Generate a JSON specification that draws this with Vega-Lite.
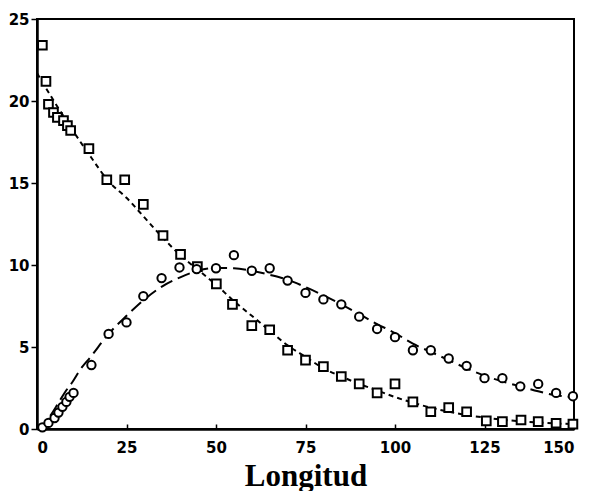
{
  "$schema": "https://vega.github.io/schema/vega-lite/v6.json",
  "autosize": {"type": "none"},
  "width": 537,
  "height": 410,
  "padding": {"left": 37, "top": 19, "right": 16, "bottom": 62},
  "background": "white",
  "config": {
    "view": {"stroke": "black", "strokeWidth": 2},
    "axis": {"grid": false, "domainColor": "black", "domainWidth": 2.5, "tickColor": "black", "tickWidth": 1.5,
      "labelFont": "DejaVu Sans", "labelFontWeight": "bold", "labelFontSize": 15, "labelColor": "black"}
  },
  "datasets": {
    "pts": [
      {"x": 1.5, "y": 23.4, "s": "sq"}, {"x": 2.5, "y": 21.2, "s": "sq"}, {"x": 3.2, "y": 19.8, "s": "sq"},
      {"x": 4.6, "y": 19.3, "s": "sq"}, {"x": 5.7, "y": 19.0, "s": "sq"}, {"x": 7.4, "y": 18.8, "s": "sq"},
      {"x": 8.5, "y": 18.5, "s": "sq"}, {"x": 9.4, "y": 18.2, "s": "sq"}, {"x": 14.5, "y": 17.1, "s": "sq"},
      {"x": 19.5, "y": 15.2, "s": "sq"}, {"x": 24.5, "y": 15.2, "s": "sq"}, {"x": 29.7, "y": 13.7, "s": "sq"},
      {"x": 35.2, "y": 11.8, "s": "sq"}, {"x": 40.1, "y": 10.65, "s": "sq"}, {"x": 44.8, "y": 9.9, "s": "sq"},
      {"x": 50.1, "y": 8.85, "s": "sq"}, {"x": 54.6, "y": 7.6, "s": "sq"}, {"x": 60, "y": 6.3, "s": "sq"},
      {"x": 65, "y": 6.05, "s": "sq"}, {"x": 70, "y": 4.8, "s": "sq"}, {"x": 75, "y": 4.2, "s": "sq"},
      {"x": 80, "y": 3.8, "s": "sq"}, {"x": 85, "y": 3.2, "s": "sq"}, {"x": 90, "y": 2.75, "s": "sq"},
      {"x": 95, "y": 2.2, "s": "sq"}, {"x": 100, "y": 2.75, "s": "sq"}, {"x": 105, "y": 1.65, "s": "sq"},
      {"x": 110, "y": 1.05, "s": "sq"}, {"x": 115, "y": 1.3, "s": "sq"}, {"x": 120, "y": 1.05, "s": "sq"},
      {"x": 125.5, "y": 0.5, "s": "sq"}, {"x": 130, "y": 0.45, "s": "sq"}, {"x": 135.2, "y": 0.55, "s": "sq"},
      {"x": 140, "y": 0.45, "s": "sq"}, {"x": 145, "y": 0.35, "s": "sq"}, {"x": 149.7, "y": 0.3, "s": "sq"},
      {"x": 1.5, "y": 0.1, "s": "ci"}, {"x": 3.2, "y": 0.37, "s": "ci"}, {"x": 4.9, "y": 0.67, "s": "ci"},
      {"x": 6.0, "y": 1.0, "s": "ci"}, {"x": 7.1, "y": 1.35, "s": "ci"}, {"x": 8.2, "y": 1.65, "s": "ci"},
      {"x": 9.1, "y": 1.96, "s": "ci"}, {"x": 10.2, "y": 2.2, "s": "ci"}, {"x": 15.2, "y": 3.9, "s": "ci"},
      {"x": 20, "y": 5.8, "s": "ci"}, {"x": 25, "y": 6.5, "s": "ci"}, {"x": 29.7, "y": 8.1, "s": "ci"},
      {"x": 34.8, "y": 9.2, "s": "ci"}, {"x": 39.8, "y": 9.85, "s": "ci"}, {"x": 44.6, "y": 9.75, "s": "ci"},
      {"x": 50, "y": 9.8, "s": "ci"}, {"x": 55, "y": 10.6, "s": "ci"}, {"x": 60, "y": 9.65, "s": "ci"},
      {"x": 65, "y": 9.8, "s": "ci"}, {"x": 70, "y": 9.05, "s": "ci"}, {"x": 75, "y": 8.3, "s": "ci"},
      {"x": 80, "y": 7.9, "s": "ci"}, {"x": 85, "y": 7.6, "s": "ci"}, {"x": 90, "y": 6.85, "s": "ci"},
      {"x": 95, "y": 6.1, "s": "ci"}, {"x": 100, "y": 5.6, "s": "ci"}, {"x": 105, "y": 4.8, "s": "ci"},
      {"x": 110, "y": 4.8, "s": "ci"}, {"x": 115, "y": 4.3, "s": "ci"}, {"x": 120, "y": 3.85, "s": "ci"},
      {"x": 125, "y": 3.1, "s": "ci"}, {"x": 130, "y": 3.1, "s": "ci"}, {"x": 135, "y": 2.6, "s": "ci"},
      {"x": 140, "y": 2.75, "s": "ci"}, {"x": 145, "y": 2.2, "s": "ci"}, {"x": 149.7, "y": 2.0, "s": "ci"}
    ],
    "curves": [
      {"x": 0, "y": 21.7, "c": "A"}, {"x": 5, "y": 19.9, "c": "A"}, {"x": 10, "y": 18.2, "c": "A"},
      {"x": 15, "y": 16.6, "c": "A"}, {"x": 20, "y": 15.1, "c": "A"}, {"x": 25, "y": 14.1, "c": "A"},
      {"x": 30, "y": 12.9, "c": "A"}, {"x": 35, "y": 11.7, "c": "A"}, {"x": 40, "y": 10.6, "c": "A"},
      {"x": 45, "y": 9.7, "c": "A"}, {"x": 50, "y": 8.8, "c": "A"}, {"x": 55, "y": 7.8, "c": "A"},
      {"x": 60, "y": 6.9, "c": "A"}, {"x": 65, "y": 6.0, "c": "A"}, {"x": 70, "y": 5.1, "c": "A"},
      {"x": 75, "y": 4.4, "c": "A"}, {"x": 80, "y": 3.7, "c": "A"}, {"x": 85, "y": 3.2, "c": "A"},
      {"x": 90, "y": 2.75, "c": "A"}, {"x": 95, "y": 2.35, "c": "A"}, {"x": 100, "y": 1.95, "c": "A"},
      {"x": 105, "y": 1.6, "c": "A"}, {"x": 110, "y": 1.3, "c": "A"}, {"x": 115, "y": 1.05, "c": "A"},
      {"x": 120, "y": 0.85, "c": "A"}, {"x": 125, "y": 0.7, "c": "A"}, {"x": 130, "y": 0.57, "c": "A"},
      {"x": 135, "y": 0.47, "c": "A"}, {"x": 140, "y": 0.4, "c": "A"}, {"x": 145, "y": 0.34, "c": "A"},
      {"x": 150, "y": 0.3, "c": "A"},
      {"x": 0, "y": 0, "c": "B"}, {"x": 2, "y": 0.3, "c": "B"}, {"x": 4, "y": 0.9, "c": "B"},
      {"x": 6, "y": 1.6, "c": "B"}, {"x": 8, "y": 2.3, "c": "B"}, {"x": 10, "y": 2.9, "c": "B"},
      {"x": 12, "y": 3.6, "c": "B"}, {"x": 15, "y": 4.4, "c": "B"}, {"x": 20, "y": 5.8, "c": "B"},
      {"x": 25, "y": 6.9, "c": "B"}, {"x": 30, "y": 7.9, "c": "B"}, {"x": 35, "y": 8.7, "c": "B"},
      {"x": 40, "y": 9.25, "c": "B"}, {"x": 45, "y": 9.65, "c": "B"}, {"x": 50, "y": 9.82, "c": "B"},
      {"x": 55, "y": 9.8, "c": "B"}, {"x": 60, "y": 9.65, "c": "B"}, {"x": 65, "y": 9.4, "c": "B"},
      {"x": 70, "y": 9.1, "c": "B"}, {"x": 75, "y": 8.65, "c": "B"}, {"x": 80, "y": 8.15, "c": "B"},
      {"x": 85, "y": 7.6, "c": "B"}, {"x": 90, "y": 7.0, "c": "B"}, {"x": 95, "y": 6.4, "c": "B"},
      {"x": 100, "y": 5.85, "c": "B"}, {"x": 105, "y": 5.2, "c": "B"}, {"x": 110, "y": 4.7, "c": "B"},
      {"x": 115, "y": 4.2, "c": "B"}, {"x": 120, "y": 3.7, "c": "B"}, {"x": 125, "y": 3.25, "c": "B"},
      {"x": 130, "y": 2.9, "c": "B"}, {"x": 135, "y": 2.6, "c": "B"}, {"x": 140, "y": 2.3, "c": "B"},
      {"x": 145, "y": 2.05, "c": "B"}, {"x": 150, "y": 1.95, "c": "B"}
    ]
  },
  "encoding": {
    "x": {"field": "x", "type": "quantitative",
      "scale": {"domain": [0, 150], "nice": false, "zero": false},
      "axis": {"values": [0, 25, 50, 75, 100, 125, 150], "tickSize": -5, "labelPadding": 16,
        "title": "Longitud", "titleFont": "Liberation Serif", "titleFontWeight": "bold", "titleFontSize": 31,
        "titleColor": "black", "titlePadding": 6}},
    "y": {"field": "y", "type": "quantitative",
      "scale": {"domain": [0, 25], "nice": false},
      "axis": {"values": [0, 5, 10, 15, 20, 25], "tickSize": 6, "labelPadding": 2, "title": null}}
  },
  "layer": [
    {"data": {"name": "curves"}, "transform": [{"filter": "datum.c === 'A'"}],
      "mark": {"type": "line", "color": "black", "strokeWidth": 2, "strokeDash": [5, 4], "interpolate": "monotone"}},
    {"data": {"name": "curves"}, "transform": [{"filter": "datum.c === 'B'"}],
      "mark": {"type": "line", "color": "black", "strokeWidth": 2, "strokeDash": [13, 6], "interpolate": "monotone"}},
    {"data": {"name": "pts"}, "transform": [{"filter": "datum.s === 'sq'"}],
      "mark": {"type": "point", "shape": "square", "filled": true, "fill": "white", "stroke": "black", "strokeWidth": 2, "size": 75, "opacity": 1}},
    {"data": {"name": "pts"}, "transform": [{"filter": "datum.s === 'ci'"}],
      "mark": {"type": "point", "shape": "circle", "filled": true, "fill": "white", "stroke": "black", "strokeWidth": 2, "size": 70, "opacity": 1}}
  ]
}
